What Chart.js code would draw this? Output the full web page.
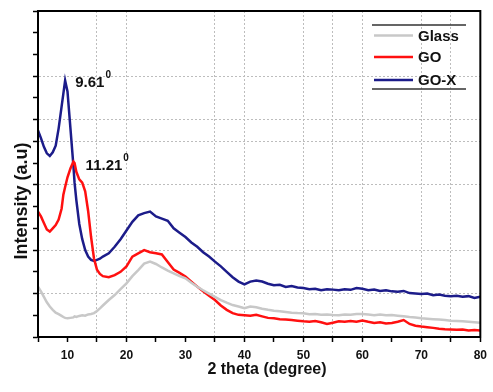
<!DOCTYPE html>
<html>
<head>
<meta charset="utf-8">
<script src="https://cdn.jsdelivr.net/npm/chart.js@4.4.1/dist/chart.umd.min.js"></script>
<style>
  html, body { margin: 0; padding: 0; background: #fff; }
  #wrap { width: 493px; height: 392px; position: relative; }
</style>
</head>
<body>
<div id="wrap"><canvas id="xrd"></canvas></div>
<script>
// 2 theta values (degree), shared by all three scans
const angles = [5, 5.5, 6, 6.5, 7, 7.5, 8, 8.5, 9, 9.3, 9.6, 10, 10.5, 11, 11.2, 11.5, 12, 12.5, 13, 13.5, 14, 14.5, 15, 15.5, 16,
  17, 18, 19, 20, 21, 22, 23, 24, 25, 26, 27, 28, 29, 30, 31, 32, 33, 34, 35, 36, 37, 38, 39, 40,
  41, 42, 43, 44, 45, 46, 47, 48, 49, 50, 51, 52, 53, 54, 55, 56, 57, 58, 59, 60,
  61, 62, 63, 64, 65, 66, 67, 68, 69, 70, 71, 72, 73, 74, 75, 76, 77, 78, 79, 80];

// intensities (a.u)
const glass = [2.31, 2.1, 1.85, 1.6, 1.4, 1.25, 1.12, 1.05, 0.97, 0.92, 0.88, 0.86, 0.88, 0.9, 0.95, 0.92, 0.97, 1.0, 0.98, 1.04, 1.06, 1.1, 1.2, 1.32, 1.45,
  1.7, 1.93, 2.2, 2.47, 2.8, 3.08, 3.38, 3.47, 3.36, 3.2, 3.05, 2.93, 2.8, 2.7, 2.5, 2.31, 2.15, 2.0, 1.85, 1.7, 1.58, 1.47, 1.4, 1.32,
  1.4, 1.37, 1.3, 1.25, 1.21, 1.18, 1.15, 1.12, 1.1, 1.09, 1.05, 1.06, 1.02, 1.04, 1.01, 1.0, 1.04, 1.02, 1.06, 1.06,
  1.03, 1.0, 1.04, 1.0, 1.01, 0.98, 0.95, 0.92, 0.9, 0.86, 0.84, 0.82, 0.8, 0.78, 0.75, 0.74, 0.72, 0.7, 0.68, 0.66];

const go = [5.77, 5.55, 5.25, 4.95, 4.85, 5.0, 5.15, 5.4, 5.9, 6.55, 6.9, 7.35, 7.75, 8.07, 8.0, 7.6, 7.25, 7.1, 6.7, 5.8, 4.6, 3.6, 3.1, 2.9, 2.8,
  2.75, 2.85, 3.0, 3.25, 3.7, 3.85, 4.0, 3.9, 3.85, 3.8, 3.45, 3.1, 2.95, 2.78, 2.55, 2.32, 2.1, 1.9, 1.7, 1.45, 1.25, 1.1, 1.02, 1.0,
  0.98, 1.02, 0.95, 0.88, 0.86, 0.82, 0.8, 0.78, 0.75, 0.72, 0.7, 0.74, 0.68, 0.6, 0.66, 0.72, 0.7, 0.74, 0.7, 0.76,
  0.7, 0.65, 0.68, 0.62, 0.64, 0.7, 0.78, 0.6, 0.52, 0.48, 0.45, 0.42, 0.38, 0.36, 0.35, 0.33, 0.34, 0.3, 0.32, 0.3];

const goX = [9.5, 9.15, 8.75, 8.45, 8.33, 8.5, 8.8, 9.6, 10.6, 11.2, 11.8, 11.3, 9.6, 7.9, 7.1, 6.3, 5.2, 4.5, 4.0, 3.7, 3.55, 3.5, 3.55, 3.6, 3.7,
  3.85, 4.15, 4.5, 4.9, 5.3, 5.6, 5.7, 5.77, 5.55, 5.45, 5.35, 5.0, 4.8, 4.6, 4.35, 4.15, 3.9, 3.7, 3.47, 3.25, 3.0, 2.75, 2.55, 2.42,
  2.55, 2.6, 2.55, 2.45, 2.38, 2.4, 2.3, 2.35, 2.28, 2.25, 2.2, 2.22, 2.15, 2.2, 2.18, 2.15, 2.2, 2.17, 2.25, 2.22,
  2.15, 2.18, 2.12, 2.15, 2.1, 2.08, 2.12, 2.02, 2.0, 1.98, 2.0, 1.92, 1.95, 1.9, 1.88, 1.9, 1.85, 1.88, 1.8, 1.85];

const seriesNames = ['Glass', 'GO', 'GO-X'];
const seriesColors = ['#c8c8c8', '#ff1010', '#1c1c8a'];

// tick settings
const xTickLabels = [10, 20, 30, 40, 50, 60, 70, 80];
const xGridAt = [15, 20, 35, 40, 50, 55, 60, 70, 75];
const yGridAt = [2, 4, 7, 9, 10, 12];

// peak labels
const peaks = [
  { angle: 9.61, value: 11.8, text: '9.61', dx: 10, dy: 2 },
  { angle: 11.21, value: 8.07, text: '11.21', dx: 11, dy: 4 }
];

const FONT = "'Liberation Sans', Arial, sans-serif";

function toPoints(vals) {
  return angles.map((a, i) => ({ x: a, y: vals[i] }));
}

// frame, axis titles, legend and peak labels
const decorPlugin = {
  id: 'decor',
  afterDraw(chart) {
    const { ctx, chartArea: ca, scales } = chart;
    ctx.save();

    // box round the plot
    ctx.strokeStyle = '#000';
    ctx.lineWidth = 2;
    ctx.strokeRect(ca.left, ca.top, ca.right - ca.left, ca.bottom - ca.top);

    ctx.fillStyle = '#111';
    // x title
    ctx.font = 'bold 16px ' + FONT;
    ctx.textAlign = 'center';
    ctx.textBaseline = 'alphabetic';
    ctx.fillText('2 theta (degree)', 267, 374);

    // y title
    ctx.save();
    ctx.translate(27, 201);
    ctx.rotate(-Math.PI / 2);
    ctx.font = 'bold 18px ' + FONT;
    ctx.fillText('Intensity (a.u)', 0, 0);
    ctx.restore();

    // legend
    ctx.strokeStyle = '#333';
    ctx.lineWidth = 1.5;
    ctx.beginPath();
    ctx.moveTo(372, 25); ctx.lineTo(466, 25);
    ctx.moveTo(372, 89); ctx.lineTo(466, 89);
    ctx.stroke();
    const rowY = [35.5, 57, 80];
    chart.data.datasets.forEach((ds, i) => {
      ctx.strokeStyle = ds.borderColor;
      ctx.lineWidth = 2.5;
      ctx.beginPath();
      ctx.moveTo(374, rowY[i]); ctx.lineTo(413, rowY[i]);
      ctx.stroke();
      ctx.fillStyle = '#111';
      ctx.font = 'bold 15px ' + FONT;
      ctx.textAlign = 'left';
      ctx.textBaseline = 'middle';
      ctx.fillText(ds.label, 418, rowY[i] + 1);
    });

    // peak positions
    peaks.forEach(p => {
      const px = scales.x.getPixelForValue(p.angle) + p.dx;
      const py = scales.y.getPixelForValue(p.value) + p.dy;
      ctx.font = 'bold 15px ' + FONT;
      ctx.textAlign = 'left';
      ctx.textBaseline = 'middle';
      ctx.fillText(p.text, px, py);
      const w = ctx.measureText(p.text).width;
      ctx.font = 'bold 10px ' + FONT;
      ctx.fillText('0', px + w + 1, py - 7);
    });

    ctx.restore();
  }
};

new Chart(document.getElementById('xrd'), {
  type: 'line',
  data: {
    datasets: [glass, go, goX].map((vals, i) => ({
      label: seriesNames[i],
      data: toPoints(vals),
      borderColor: seriesColors[i],
      borderWidth: 2.5,
      pointRadius: 0,
      tension: 0,
      fill: false
    }))
  },
  options: {
    responsive: true,
    maintainAspectRatio: false,
    animation: false,
    layout: { padding: { top: 11, right: 8, left: 0, bottom: 0 } },
    plugins: {
      legend: { display: false },
      tooltip: { enabled: false }
    },
    scales: {
      x: {
        type: 'linear',
        min: 5,
        max: 80,
        afterFit(scale) { scale.height = 55; },
        ticks: {
          stepSize: 5,
          padding: 6,
          color: '#111',
          font: { family: FONT, size: 12, weight: 'bold' },
          callback: v => xTickLabels.includes(v) ? String(v) : ''
        },
        grid: {
          color: c => (c.tick && xGridAt.includes(c.tick.value)) ? '#bdbdbd' : 'rgba(0,0,0,0)',
          lineWidth: 1,
          tickColor: '#000',
          tickLength: 5,
          tickWidth: 1.5
        },
        border: { display: true, color: '#000', width: 2, dash: [2, 2] }
      },
      y: {
        min: 0,
        max: 15,
        afterFit(scale) { scale.width = 38; },
        ticks: {
          stepSize: 1,
          callback: () => ''
        },
        grid: {
          color: c => (c.tick && yGridAt.includes(c.tick.value)) ? '#bdbdbd' : 'rgba(0,0,0,0)',
          lineWidth: 1,
          tickColor: '#000',
          tickLength: 5,
          tickWidth: 1.5
        },
        border: { display: true, color: '#000', width: 2, dash: [2, 2] }
      }
    }
  },
  plugins: [decorPlugin]
});
</script>
</body>
</html>
